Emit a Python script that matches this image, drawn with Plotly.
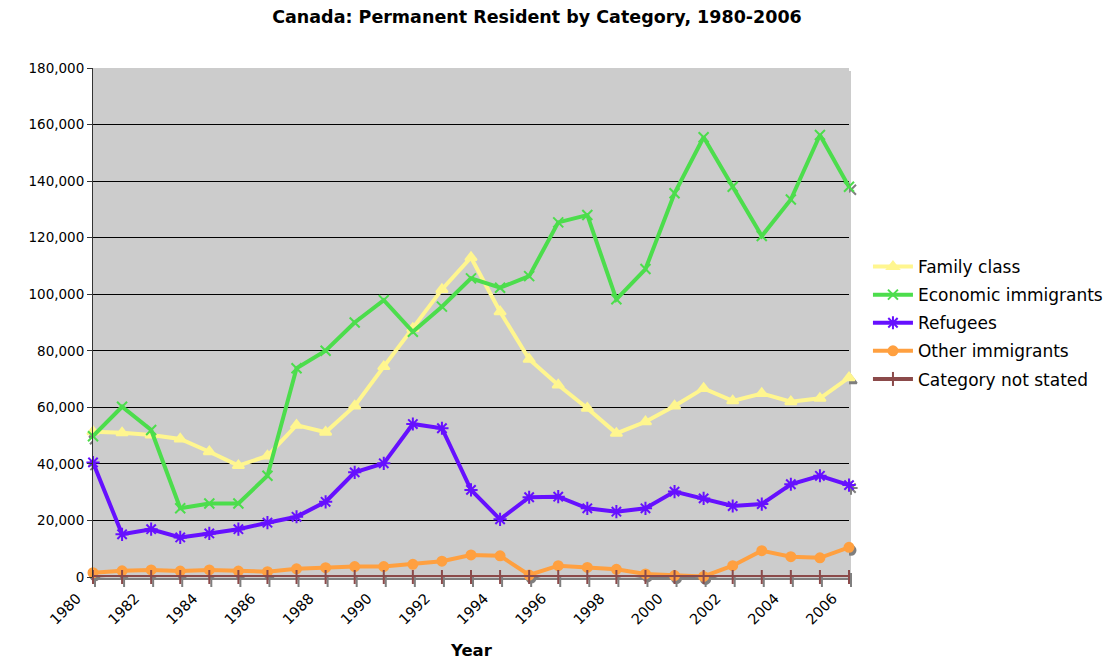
"""
Canada: Permanent Resident by Category, 1980-2006
Excel-style line chart with drop shadows
"""

import plotly.graph_objects as go

# 数据
years = list(range(1980, 2007))

family_class = [51400, 51000, 50200, 48800, 44300, 39400, 42800, 53700, 51200, 60500,
                74400, 87900, 101700, 113000, 93800, 77000, 67900, 59700, 50800, 54900,
                60500, 66700, 62300, 64900, 62000, 63200, 70500]
economic = [49800, 60200, 52000, 24300, 26000, 26000, 35800, 73800, 80000, 90000,
            97900, 86700, 95600, 105600, 102300, 106400, 125400, 128000, 98200, 108900,
            135700, 155500, 138000, 120600, 133500, 156300, 138000]
refugees = [40500, 15100, 16900, 14000, 15400, 16900, 19200, 21300, 26600, 37000,
            40200, 54100, 52600, 30800, 20400, 28200, 28400, 24300, 23100, 24300,
            30200, 27800, 25100, 25800, 32800, 35800, 32500]
other_imm = [1500, 2200, 2500, 2100, 2500, 2100, 1900, 2900, 3300, 3700,
             3700, 4500, 5600, 7800, 7500, 700, 4000, 3400, 2700, 1100,
             500, 200, 4000, 9300, 7200, 6800, 10500]
not_stated = [0, 0, 0, 0, 0, 0, 0, 0, 0, 0,
              0, 0, 0, 0, 0, 0, 0, 0, 0, 0,
              0, 0, 0, 0, 0, 0, 0]

SERIES = [
    ("Family class", family_class, "#FFF68F", "triangle-up", 10),
    ("Economic immigrants", economic, "#4CDD4C", "x-thin-open", 10),
    ("Refugees", refugees, "#6610FF", "asterisk-open", 11),
    ("Other immigrants", other_imm, "#FFA040", "circle", 9),
    ("Category not stated", not_stated, "#8B4A4A", "line-ns-open", 10),
]

FONT = "Verdana, DejaVu Sans, sans-serif"
SHADOW = "#7F7F7F"

# 页面 body 默认有 8px 边距，按参考图像素减去该偏移
OFF = 8
W, H = 1120 - OFF, 661 - OFF
L, T = 93 - OFF, 68 - OFF
PW, PH = 760, 512          # 绘图区（含阴影偏移）
DX, DY = 2, 3              # 阴影偏移像素
R, B = W - L - PW, H - T - PH
dx, dy = DX / PW, DY / PH

fig = go.Figure()

# 阴影（底层坐标轴，向右下偏移）
for name, vals, color, sym, size in SERIES:
    fig.add_trace(go.Scatter(
        x=years, y=vals, mode="lines+markers", xaxis="x", yaxis="y",
        line=dict(color=SHADOW, width=4),
        marker=dict(symbol=sym, size=size, color=SHADOW,
                    line=dict(color=SHADOW, width=2)),
        showlegend=False, hoverinfo="skip", cliponaxis=False,
    ))

# 主线
for name, vals, color, sym, size in SERIES:
    fig.add_trace(go.Scatter(
        x=years, y=vals, mode="lines+markers", name=name,
        xaxis="x2", yaxis="y2", legendgroup=name,
        line=dict(color=color, width=4),
        marker=dict(symbol=sym, size=size, color=color,
                    line=dict(color=color, width=2)),
        cliponaxis=False,
    ))

hidden = dict(visible=False, showgrid=False, zeroline=False)
fig.update_layout(
    width=W, height=H,
    paper_bgcolor="white",
    plot_bgcolor="#CCCCCC",
    font=dict(family=FONT, size=13, color="black"),
    margin=dict(l=L, r=R, t=T, b=B),
    title=dict(text="<b>Canada: Permanent Resident by Category, 1980-2006</b>",
               x=(537 - OFF) / W, xanchor="center", y=1 - 9 / H, yanchor="middle",
               font=dict(family=FONT, size=17.5, color="black")),
    xaxis=dict(domain=[dx, 1], range=[1980, 2006], anchor="y", **hidden),
    yaxis=dict(domain=[0, 1 - dy], range=[0, 180000], anchor="x", **hidden),
    xaxis2=dict(
        domain=[0, 1 - dx], range=[1980, 2006], anchor="y2",
        tickmode="linear", tick0=1980, dtick=2, tickangle=-45,
        showgrid=False, zeroline=False, showline=False,
        tickfont=dict(size=14.5), ticks="",
        ticklabelshift=-16, ticklabelstandoff=9,
    ),
    yaxis2=dict(
        domain=[dy, 1], range=[0, 180000], anchor="x2",
        tickmode="linear", tick0=0, dtick=20000, tickformat=",",
        showgrid=True, gridcolor="#000000", gridwidth=1,
        zeroline=False, showline=True, linecolor="#333333", linewidth=1,
        ticks="outside", ticklen=5, tickcolor="#333333",
        tickfont=dict(size=13.5),
    ),
    legend=dict(
        x=(870 - 93) / PW, xanchor="left", y=1 - (249 - 68) / PH, yanchor="top",
        font=dict(family=FONT, size=17, color="black"),
        traceorder="grouped", tracegroupgap=3, itemwidth=40,
        bgcolor="rgba(0,0,0,0)",
    ),
    annotations=[dict(
        text="<b>Year</b>", xref="x2 domain", x=0.5, yref="paper",
        y=-(650 - 580) / PH, yanchor="middle", showarrow=False,
        font=dict(family=FONT, size=16.5, color="black"),
    )],
)

fig.write_html("out.html")
